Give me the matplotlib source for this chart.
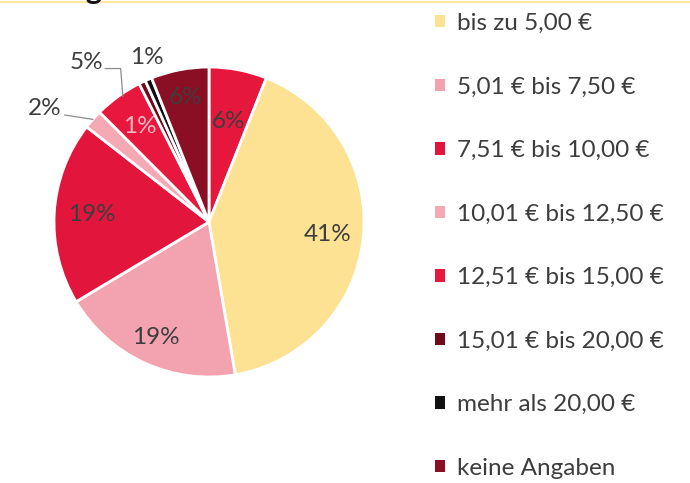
import matplotlib.pyplot as plt
from matplotlib.patches import Patch
import numpy as np

plt.rcParams['font.family'] = ['Lato', 'DejaVu Sans']

# slices clockwise from 12 o'clock (the first red slice has no legend entry)
shares = [6, 41, 19, 19, 2, 5, 0.7, 0.7, 6]
pct_labels = ['6%', '41%', '19%', '19%', '2%', '5%', '1%', '1%', '6%']
colors = ['#e5173c', '#fde293', '#f2a3af', '#e2163c', '#f4a9b4',
          '#e8173d', '#6e0a1a', '#111111', '#8a0f25']
legend_labels = ['bis zu 5,00 €', '5,01 € bis 7,50 €', '7,51 € bis 10,00 €',
                 '10,01 € bis 12,50 €', '12,51 € bis 15,00 €',
                 '15,01 € bis 20,00 €', 'mehr als 20,00 €', 'keine Angaben']

W, H = 690, 483
fig = plt.figure(figsize=(W / 100, H / 100), dpi=100)

# pie axes: centre (209, 222) px, radius 155 px
cx, cy, r = 209, 222, 155
ax = fig.add_axes([(cx - r) / W, (H - cy - r) / H, 2 * r / W, 2 * r / H])
wedges, _ = ax.pie(shares, colors=colors, startangle=90, counterclock=False,
                   wedgeprops=dict(edgecolor='white', linewidth=2))
ax.set_xlim(-1, 1)
ax.set_ylim(-1, 1)
ax.set_aspect('equal')
ax.axis('off')

txt = '#3d3d3d'
fs = 17.5


def mid(w):
    return np.deg2rad((w.theta1 + w.theta2) / 2)


# labels inside the slices
for i, rr in [(0, 0.66), (1, 0.77), (2, 0.82), (3, 0.76), (8, 0.82)]:
    a = mid(wedges[i])
    ax.text(rr * np.cos(a), rr * np.sin(a), pct_labels[i], ha='center',
            va='center', fontsize=fs, color=txt)

# label of a tiny slice that ended up inside the 5% slice
a = mid(wedges[5])
ax.text(0.76 * np.cos(a), 0.76 * np.sin(a), pct_labels[6], ha='center',
        va='center', fontsize=fs, color='#f6b8c2')

# outside labels with leader lines
a = mid(wedges[4])
ex, ey = np.cos(a), np.sin(a)
ax.text(-0.95, 0.73, pct_labels[4], ha='right', va='center', fontsize=fs,
        color=txt)
ax.plot([-0.93, ex], [0.69, ey], color='#8c8c8c', lw=0.9, clip_on=False)

a = mid(wedges[5])
ex, ey = np.cos(a), np.sin(a)
ax.text(-0.68, 1.03, pct_labels[5], ha='right', va='center', fontsize=fs,
        color=txt)
ax.plot([-0.67, -0.57, ex + 0.03], [0.99, 0.99, ey], color='#8c8c8c', lw=0.9,
        clip_on=False)

a = mid(wedges[7])
ax.text(-0.40, 1.06, pct_labels[7], ha='center', va='center', fontsize=fs,
        color=txt)

# legend with small squares
handles = [Patch(facecolor=c) for c in colors[1:]]
fig.legend(handles=handles, labels=legend_labels, loc='upper left',
           bbox_to_anchor=(435 / W, 1 - 13 / H), frameon=False, fontsize=fs,
           handlelength=0.4, handleheight=0.4, handletextpad=0.5,
           labelspacing=1.75, borderpad=0, borderaxespad=0, labelcolor=txt)

# title cut off by the top edge (only descenders show) and yellow rule
fig.text(0.05, 1 + 1 / H, 'Ausgaben', fontsize=22, fontweight='bold',
         va='baseline', color='#111111')
fig.add_artist(plt.Line2D([0, 1], [1 - 2 / H, 1 - 2 / H], color='#f8e7a0',
                          lw=1.5))

fig.savefig('out.png', dpi=100, facecolor='white')
